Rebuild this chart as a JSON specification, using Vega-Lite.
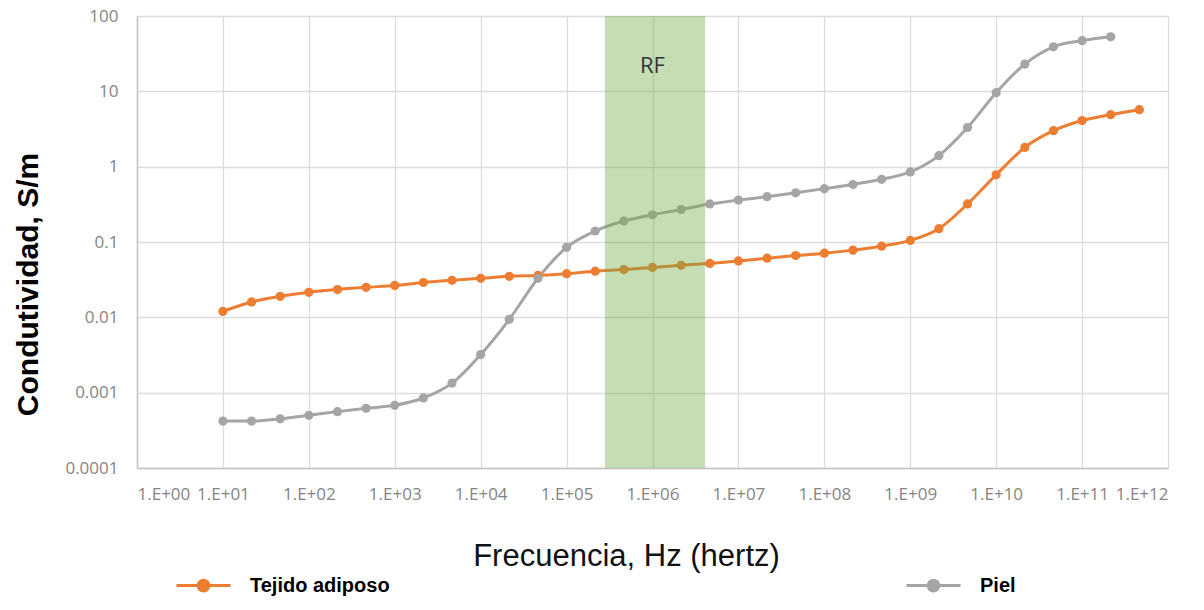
{
  "$schema": "https://vega.github.io/schema/vega-lite/v6.json",
  "autosize": "none",
  "padding": {"left": 137, "top": 16, "right": 36, "bottom": 142},
  "width": 1031,
  "height": 452,
  "background": "white",
  "config": {
    "view": {"stroke": null},
    "axis": {
      "labelFont": "Open Sans",
      "labelFontSize": 17,
      "labelColor": "#858585",
      "ticks": false,
      "gridColor": "#dcdcdc",
      "gridWidth": 1.3,
      "domainColor": "#c4c4c4",
      "domainWidth": 1.5
    }
  },
  "datasets": {
    "series": [
      {"serie": "Tejido adiposo", "f": 10, "s": 0.012},
      {"serie": "Tejido adiposo", "f": 21.54, "s": 0.016},
      {"serie": "Tejido adiposo", "f": 46.42, "s": 0.019},
      {"serie": "Tejido adiposo", "f": 100, "s": 0.0215},
      {"serie": "Tejido adiposo", "f": 215.4, "s": 0.0234},
      {"serie": "Tejido adiposo", "f": 464.2, "s": 0.025},
      {"serie": "Tejido adiposo", "f": 1000, "s": 0.0265},
      {"serie": "Tejido adiposo", "f": 2154, "s": 0.029},
      {"serie": "Tejido adiposo", "f": 4642, "s": 0.031},
      {"serie": "Tejido adiposo", "f": 10000, "s": 0.033},
      {"serie": "Tejido adiposo", "f": 21544, "s": 0.035},
      {"serie": "Tejido adiposo", "f": 46416, "s": 0.036},
      {"serie": "Tejido adiposo", "f": 100000, "s": 0.038},
      {"serie": "Tejido adiposo", "f": 215443, "s": 0.041},
      {"serie": "Tejido adiposo", "f": 464159, "s": 0.043},
      {"serie": "Tejido adiposo", "f": 1000000, "s": 0.046},
      {"serie": "Tejido adiposo", "f": 2154435, "s": 0.049},
      {"serie": "Tejido adiposo", "f": 4641589, "s": 0.052},
      {"serie": "Tejido adiposo", "f": 10000000, "s": 0.056},
      {"serie": "Tejido adiposo", "f": 21544347, "s": 0.061},
      {"serie": "Tejido adiposo", "f": 46415888, "s": 0.066},
      {"serie": "Tejido adiposo", "f": 100000000, "s": 0.071},
      {"serie": "Tejido adiposo", "f": 215443469, "s": 0.078},
      {"serie": "Tejido adiposo", "f": 464158883, "s": 0.088},
      {"serie": "Tejido adiposo", "f": 1000000000, "s": 0.105},
      {"serie": "Tejido adiposo", "f": 2154434690, "s": 0.15},
      {"serie": "Tejido adiposo", "f": 4641588834, "s": 0.32},
      {"serie": "Tejido adiposo", "f": 10000000000, "s": 0.78},
      {"serie": "Tejido adiposo", "f": 21544346900, "s": 1.8},
      {"serie": "Tejido adiposo", "f": 46415888336, "s": 3.0},
      {"serie": "Tejido adiposo", "f": 100000000000, "s": 4.1},
      {"serie": "Tejido adiposo", "f": 215443469003, "s": 4.9},
      {"serie": "Tejido adiposo", "f": 464158883361, "s": 5.7},
      {"serie": "Piel", "f": 10, "s": 0.00042},
      {"serie": "Piel", "f": 21.54, "s": 0.00042},
      {"serie": "Piel", "f": 46.42, "s": 0.00045},
      {"serie": "Piel", "f": 100, "s": 0.0005},
      {"serie": "Piel", "f": 215.4, "s": 0.00056},
      {"serie": "Piel", "f": 464.2, "s": 0.00062},
      {"serie": "Piel", "f": 1000, "s": 0.00068},
      {"serie": "Piel", "f": 2154, "s": 0.00085},
      {"serie": "Piel", "f": 4642, "s": 0.00134},
      {"serie": "Piel", "f": 10000, "s": 0.0032},
      {"serie": "Piel", "f": 21544, "s": 0.0094},
      {"serie": "Piel", "f": 46416, "s": 0.033},
      {"serie": "Piel", "f": 100000, "s": 0.085},
      {"serie": "Piel", "f": 215443, "s": 0.14},
      {"serie": "Piel", "f": 464159, "s": 0.19},
      {"serie": "Piel", "f": 1000000, "s": 0.23},
      {"serie": "Piel", "f": 2154435, "s": 0.27},
      {"serie": "Piel", "f": 4641589, "s": 0.32},
      {"serie": "Piel", "f": 10000000, "s": 0.36},
      {"serie": "Piel", "f": 21544347, "s": 0.40},
      {"serie": "Piel", "f": 46415888, "s": 0.45},
      {"serie": "Piel", "f": 100000000, "s": 0.51},
      {"serie": "Piel", "f": 215443469, "s": 0.58},
      {"serie": "Piel", "f": 464158883, "s": 0.68},
      {"serie": "Piel", "f": 1000000000, "s": 0.85},
      {"serie": "Piel", "f": 2154434690, "s": 1.4},
      {"serie": "Piel", "f": 4641588834, "s": 3.3},
      {"serie": "Piel", "f": 10000000000, "s": 9.6},
      {"serie": "Piel", "f": 21544346900, "s": 23},
      {"serie": "Piel", "f": 46415888336, "s": 39},
      {"serie": "Piel", "f": 100000000000, "s": 47},
      {"serie": "Piel", "f": 215443469003, "s": 53}
    ],
    "band": [{"f1": 280000, "f2": 4100000, "s1": 0.0001, "s2": 100, "label": "RF", "fx": 1000000, "sy": 22}]
  },
  "layer": [
    {
      "data": {"name": "series"},
      "mark": {"type": "line", "interpolate": "monotone", "strokeWidth": 3},
      "encoding": {
        "x": {
          "field": "f", "type": "quantitative",
          "scale": {"type": "log", "domain": [1, 1000000000000], "nice": false},
          "axis": {
            "values": [1, 10, 100, 1000, 10000, 100000, 1000000, 10000000, 100000000, 1000000000, 10000000000, 100000000000, 1000000000000],
            "labelExpr": "'1.E+' + (datum.value < 1e10 ? '0' : '') + round(log(datum.value) / LN10)",
            "labelPadding": 18,
            "title": "Frecuencia, Hz (hertz)",
            "titleFont": "Liberation Sans",
            "titleFontSize": 31,
            "titleFontWeight": "normal",
            "titleColor": "#111111",
            "titleX": 489,
            "titleY": 97,
            "titleBaseline": "alphabetic",
            "titleAlign": "center"
          }
        },
        "y": {
          "field": "s", "type": "quantitative",
          "scale": {"type": "log", "domain": [0.0001, 100], "nice": false},
          "axis": {
            "values": [0.0001, 0.001, 0.01, 0.1, 1, 10, 100],
            "labelExpr": "format(datum.value, '~f')",
            "labelPadding": 19,
            "title": "Condutividad, S/m",
            "titleFont": "Liberation Sans",
            "titleFontSize": 30,
            "titleFontWeight": "bold",
            "titleColor": "#000000",
            "titleX": -100,
            "titleY": 268,
            "titleAngle": -90,
            "titleAlign": "center",
            "titleBaseline": "alphabetic"
          }
        },
        "color": {
          "field": "serie", "type": "nominal",
          "scale": {"domain": ["Tejido adiposo", "Piel"], "range": ["#ED7D31", "#A5A5A5"]},
          "legend": {
            "title": null,
            "orient": "none",
            "direction": "horizontal",
            "legendX": 38,
            "legendY": 541,
            "columnPadding": 510,
            "symbolType": "M-1,0L-0.2,0A0.2,0.2,0,1,1,0.2,0A0.2,0.2,0,1,1,-0.2,0M0.2,0L1,0",
            "symbolSize": 2916,
            "symbolStrokeWidth": 3,
            "labelOffset": 18,
            "labelFont": "Liberation Sans",
            "labelFontSize": 20,
            "labelFontWeight": "bold",
            "labelColor": "#000000",
            "encode": {
              "symbols": {
                "update": {
                  "fill": {"scale": "color", "field": "value"},
                  "stroke": {"scale": "color", "field": "value"},
                  "strokeWidth": {"value": 3},
                  "opacity": {"value": 1}
                }
              }
            }
          }
        }
      }
    },
    {
      "data": {"name": "series"},
      "mark": {"type": "point", "filled": true, "size": 85, "opacity": 1},
      "encoding": {
        "x": {"field": "f", "type": "quantitative"},
        "y": {"field": "s", "type": "quantitative"},
        "color": {"field": "serie", "type": "nominal"}
      }
    },
    {
      "data": {"name": "band"},
      "mark": {"type": "rect", "color": "#70AD47", "opacity": 0.41},
      "encoding": {
        "x": {"field": "f1", "type": "quantitative"},
        "x2": {"field": "f2"},
        "y": {"field": "s1", "type": "quantitative"},
        "y2": {"field": "s2"}
      }
    },
    {
      "data": {"name": "band"},
      "mark": {"type": "text", "font": "Open Sans", "fontSize": 22, "color": "#333333", "baseline": "middle", "align": "center"},
      "encoding": {
        "x": {"field": "fx", "type": "quantitative"},
        "y": {"field": "sy", "type": "quantitative"},
        "text": {"field": "label"}
      }
    }
  ]
}
